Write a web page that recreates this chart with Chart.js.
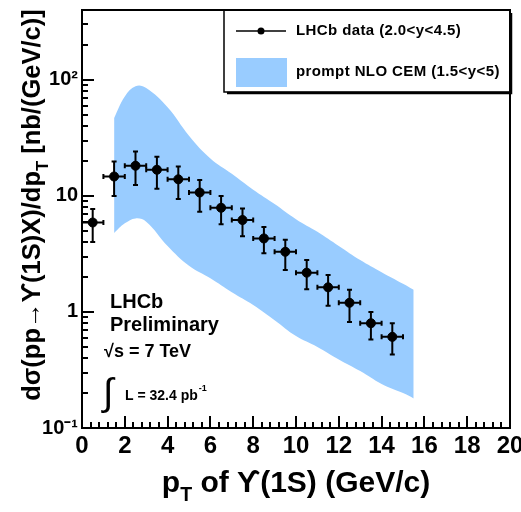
<!DOCTYPE html>
<html lang="en">
<head>
    <meta charset="UTF-8">
    <title>Upsilon(1S) cross-section vs pT</title>
    <style>
        body { margin: 0; background: #fff; }
        canvas { display: block; }
    </style>
    <script src="https://cdn.jsdelivr.net/npm/chart.js"></script>
</head>
<body>
    <canvas id="chart" width="521" height="512"></canvas>

    <script>
        // LHCb data points (bin centres, values, error bar ends) in nb/(GeV/c)
        const ptBins = [0.5, 1.5, 2.5, 3.5, 4.5, 5.5, 6.5, 7.5, 8.5, 9.5, 10.5, 11.5, 12.5, 13.5, 14.5];
        const ptHalfWidth = [0.5, 0.5, 0.5, 0.5, 0.5, 0.5, 0.5, 0.5, 0.5, 0.5, 0.5, 0.5, 0.5, 0.5, 0.5];
        const xsec = [5.9, 14.7, 18.2, 16.8, 13.9, 10.7, 7.9, 6.2, 4.3, 3.3, 2.18, 1.63, 1.2, 0.80, 0.61];
        const xsecHigh = [7.7, 19.8, 24.1, 21.8, 17.9, 13.7, 10.0, 7.8, 5.4, 4.2, 2.8, 2.08, 1.55, 1.0, 0.80];
        const xsecLow = [4.0, 10.0, 12.4, 11.5, 9.4, 7.3, 5.7, 4.5, 3.2, 2.3, 1.57, 1.13, 0.82, 0.58, 0.43];

        // prompt NLO CEM band
        const bandPt = [1.5, 2.0, 2.5, 3.0, 4.0, 5.0, 6.0, 7.0, 8.0, 9.0, 10.0, 11.0, 12.0, 13.0, 14.0, 15.0, 15.5];
        const bandHigh = [47, 72, 88, 85, 58, 33, 21, 15.5, 11.3, 8.5, 6.3, 4.9, 3.7, 2.8, 2.2, 1.75, 1.55];
        const bandLow = [4.8, 5.8, 6.4, 6.0, 3.7, 2.5, 1.95, 1.48, 1.15, 0.85, 0.62, 0.50, 0.39, 0.31, 0.24, 0.20, 0.18];

        // tick labels
        const xTickLabels = ['0', '2', '4', '6', '8', '10', '12', '14', '16', '18', '20'];
        const yDecades = [0.1, 1, 10, 100];
        const yDecadeLabels = ['10\u207B\u00B9', '1', '10', '10\u00B2'];

        const BAND = 'rgb(153,204,255)';
        const FONT = '"Liberation Sans", Arial, sans-serif';

        // text with a subscript part
        function richWidth(ctx, parts, size) {
            let w = 0;
            parts.forEach(p => {
                ctx.font = 'bold ' + (p.sub ? size * 0.65 : size) + 'px ' + FONT;
                w += ctx.measureText(p.t).width;
            });
            return w;
        }
        function drawRich(ctx, parts, x, y, size) {
            let cx = x;
            parts.forEach(p => {
                const s = p.sub ? size * 0.65 : size;
                ctx.font = 'bold ' + s + 'px ' + FONT;
                ctx.fillText(p.t, cx, p.sub ? y + size * 0.3 : y);
                cx += ctx.measureText(p.t).width;
            });
        }

        const decor = {
            id: 'decor',
            afterDatasetsDraw(chart) {
                const ctx = chart.ctx;
                const xs = chart.scales.x, ys = chart.scales.y;
                // error bars
                ctx.save();
                ctx.strokeStyle = '#000';
                ctx.lineWidth = 2;
                ptBins.forEach((pt, i) => {
                    const px = xs.getPixelForValue(pt);
                    const py = ys.getPixelForValue(xsec[i]);
                    const xl = xs.getPixelForValue(pt - ptHalfWidth[i]);
                    const xr = xs.getPixelForValue(pt + ptHalfWidth[i]);
                    const yt = ys.getPixelForValue(xsecHigh[i]);
                    const yb = ys.getPixelForValue(xsecLow[i]);
                    ctx.beginPath();
                    ctx.moveTo(xl, py); ctx.lineTo(xr, py);
                    ctx.moveTo(px, yt); ctx.lineTo(px, yb);
                    // small end caps
                    ctx.moveTo(xl, py - 2.5); ctx.lineTo(xl, py + 2.5);
                    ctx.moveTo(xr, py - 2.5); ctx.lineTo(xr, py + 2.5);
                    ctx.moveTo(px - 2.5, yt); ctx.lineTo(px + 2.5, yt);
                    ctx.moveTo(px - 2.5, yb); ctx.lineTo(px + 2.5, yb);
                    ctx.stroke();
                });
                ctx.restore();
            },
            afterDraw(chart) {
                const ctx = chart.ctx;
                const a = chart.chartArea;
                const xs = chart.scales.x, ys = chart.scales.y;
                ctx.save();
                ctx.strokeStyle = '#000';
                ctx.fillStyle = '#000';

                // frame
                ctx.lineWidth = 2;
                ctx.strokeRect(a.left, a.top, a.right - a.left, a.bottom - a.top);

                // x ticks (inside)
                ctx.lineWidth = 2;
                ctx.beginPath();
                for (let i = 0; i <= 50; i++) {
                    const px = Math.round(xs.getPixelForValue(i * 0.4));
                    const len = i % 5 === 0 ? 12 : 6;
                    ctx.moveTo(px, a.bottom); ctx.lineTo(px, a.bottom - len);
                }
                // y ticks (inside)
                yDecades.forEach(d => {
                    for (let k = 1; k <= 9; k++) {
                        const v = k * d;
                        if (v > 400) break;
                        const py = Math.round(ys.getPixelForValue(v));
                        const len = k === 1 ? 12 : 6;
                        ctx.moveTo(a.left, py); ctx.lineTo(a.left + len, py);
                    }
                });
                ctx.stroke();

                // legend box with shadow
                const lx = 224, ly = a.top, lw = a.right - 224, lh = 82;
                ctx.lineWidth = 1.5;
                ctx.strokeRect(lx, ly, lw, lh);
                ctx.lineWidth = 2.5;
                ctx.beginPath();
                ctx.moveTo(lx + 3, ly + lh + 1); ctx.lineTo(lx + lw + 1, ly + lh + 1); ctx.lineTo(lx + lw + 1, ly + 3);
                ctx.stroke();
                ctx.lineWidth = 1.5;
                ctx.beginPath();
                ctx.moveTo(236, 31); ctx.lineTo(286, 31);
                ctx.stroke();
                ctx.beginPath();
                ctx.arc(261, 31, 3.5, 0, Math.PI * 2);
                ctx.fill();
                ctx.fillStyle = BAND;
                ctx.fillRect(236, 58, 51, 29);
                ctx.fillStyle = '#000';
                ctx.font = 'bold 15px ' + FONT;
                ctx.letterSpacing = '0.4px';
                ctx.textBaseline = 'middle';
                ctx.textAlign = 'left';
                ctx.fillText('LHCb data (2.0<y<4.5)', 296, 31);
                ctx.fillText('prompt NLO CEM (1.5<y<5)', 296, 72);
                ctx.letterSpacing = '0px';

                // LHCb labels
                ctx.font = 'bold 20px ' + FONT;
                ctx.fillText('LHCb', 110, 302);
                ctx.fillText('Preliminary', 110, 325);
                ctx.font = 'bold 18px ' + FONT;
                ctx.fillText('\u221As = 7 TeV', 104, 352);
                ctx.font = '38px ' + FONT;
                ctx.fillText('\u222B', 103, 395);
                ctx.font = 'bold 14px ' + FONT;
                const lumi = 'L = 32.4 pb';
                ctx.fillText(lumi, 125, 396);
                const lumiEnd = 125 + ctx.measureText(lumi).width;
                ctx.font = 'bold 9px ' + FONT;
                ctx.fillText('-1', lumiEnd + 1, 389);

                // axis titles
                ctx.textBaseline = 'alphabetic';
                const xTitle = [{ t: 'p' }, { t: 'T', sub: true }, { t: ' of \u03D2(1S) (GeV/c)' }];
                const xSize = 30;
                const xw = richWidth(ctx, xTitle, xSize);
                drawRich(ctx, xTitle, 296 - xw / 2, 492, xSize);

                const yTitle = [{ t: 'd\u03C3(pp\u2192\u03D2(1S)X)/dp' }, { t: 'T', sub: true }, { t: ' [nb/(GeV/c)]' }];
                const ySize = 25.5;
                const yw = richWidth(ctx, yTitle, ySize);
                ctx.translate(40, 205);
                ctx.rotate(-Math.PI / 2);
                drawRich(ctx, yTitle, -yw / 2, 0, ySize);
                ctx.restore();
            }
        };

        const ctx = document.getElementById('chart').getContext('2d');
        new Chart(ctx, {
            type: 'scatter',
            data: {
                datasets: [
                    {
                        label: 'NLO upper',
                        data: bandPt.map((x, i) => ({ x, y: bandHigh[i] })),
                        showLine: true,
                        borderWidth: 0,
                        borderColor: BAND,
                        pointRadius: 0,
                        tension: 0.4,
                        fill: false,
                        order: 2
                    },
                    {
                        label: 'prompt NLO CEM (1.5<y<5)',
                        data: bandPt.map((x, i) => ({ x, y: bandLow[i] })),
                        showLine: true,
                        borderWidth: 0,
                        borderColor: BAND,
                        backgroundColor: BAND,
                        pointRadius: 0,
                        tension: 0.4,
                        fill: '-1',
                        order: 2
                    },
                    {
                        label: 'LHCb data (2.0<y<4.5)',
                        data: ptBins.map((x, i) => ({ x, y: xsec[i] })),
                        pointRadius: 4.5,
                        pointBackgroundColor: '#000',
                        pointBorderColor: '#000',
                        order: 0
                    }
                ]
            },
            options: {
                responsive: false,
                animation: false,
                events: [],
                layout: { padding: { left: 0, right: 11, top: 10, bottom: 0 } },
                plugins: { legend: { display: false }, tooltip: { enabled: false } },
                scales: {
                    x: {
                        type: 'linear',
                        min: 0,
                        max: 20,
                        grid: { display: false, drawTicks: false },
                        border: { display: false },
                        ticks: {
                            stepSize: 2,
                            autoSkip: false,
                            maxRotation: 0,
                            color: '#000',
                            padding: 4,
                            font: { family: FONT, size: 24, weight: 'bold' },
                            callback: (v) => xTickLabels[Math.round(v / 2)]
                        },
                        afterFit: (s) => { s.height = 84; s.paddingLeft = 0; s.paddingRight = 0; }
                    },
                    y: {
                        type: 'logarithmic',
                        min: 0.1,
                        max: 400,
                        grid: { display: false, drawTicks: false },
                        border: { display: false },
                        ticks: {
                            autoSkip: false,
                            color: '#000',
                            padding: 4,
                            font: { family: FONT, size: 20, weight: 'bold' },
                            callback: (v) => {
                                const i = yDecades.findIndex(d => Math.abs(v - d) < d * 1e-6);
                                return i >= 0 ? yDecadeLabels[i] : '';
                            }
                        },
                        afterFit: (s) => { s.width = 82; s.paddingTop = 0; s.paddingBottom = 0; }
                    }
                }
            },
            plugins: [decor]
        });
    </script>
</body>
</html>
